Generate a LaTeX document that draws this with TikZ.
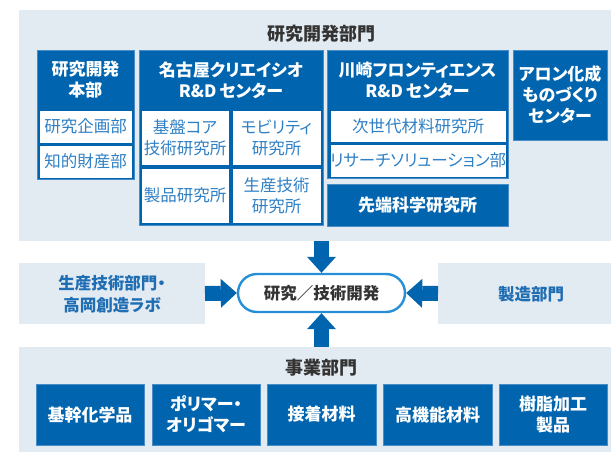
\documentclass[tikz,border=0pt]{standalone}
\usepackage{fontspec}
\setmainfont{Noto Sans CJK JP}[RawFeature=+palt]
\usetikzlibrary{arrows.meta}
\definecolor{navy}{HTML}{0064AF}
\definecolor{panelgray}{HTML}{E3EBF2}
\definecolor{celltext}{HTML}{2F80C4}
\definecolor{midtext}{HTML}{1F6DB3}
\definecolor{edgeblue}{HTML}{4A8CC8}
\definecolor{pillblue}{HTML}{2590D8}
\definecolor{titletext}{HTML}{333333}
\begin{document}
\begin{tikzpicture}[x=1pt,y=-1pt,
  every node/.style={inner sep=0pt, outer sep=0pt},
  panelbox/.style={fill=panelgray, anchor=north west},
  darkbox/.style={fill=navy, draw=edgeblue, line width=0.8pt, anchor=north west,
    text=white, font=\bfseries\fontsize{17}{21}\selectfont, align=center},
  cellbox/.style={fill=white, draw=navy, line width=0.6pt, anchor=north west,
    text=celltext, font=\fontsize{16.5}{21}\selectfont, align=center},
  headtext/.style={text=white, font=\bfseries\fontsize{17}{21}\selectfont, align=center},
  titlestyle/.style={text=titletext, font=\bfseries\fontsize{18}{21}\selectfont},
  midtextstyle/.style={text=midtext, font=\bfseries\fontsize{16.5}{21.5}\selectfont, align=center},
  pillstyle/.style={draw=pillblue, line width=2.4pt, fill=white, rounded corners=19pt,
    minimum width=167pt, minimum height=38pt, text=titletext,
    font=\bfseries\fontsize{16.5}{21}\selectfont},
  bigarrow/.style={draw=navy, line width=15pt,
    -{Triangle[length=16pt, width=29pt, line width=0pt]}}
]
\useasboundingbox (0,0) rectangle (611,452);

% panels
\node[panelbox, minimum width=592pt, minimum height=231pt] (rd) at (19,10) {};
\node[panelbox, minimum width=186pt, minimum height=61pt] (prod) at (19,263) {};
\node[panelbox, minimum width=173pt, minimum height=61pt] (mfg) at (438,263) {};
\node[panelbox, minimum width=592pt, minimum height=105pt] (biz) at (19,347) {};

\node[titlestyle] (rdtitle) at (321,34) {研究開発部門};
\node[titlestyle] (biztitle) at (321,368) {事業部門};

% 研究開発本部
\node[darkbox, minimum width=97pt, minimum height=129pt] (hq) at (37,50) {};
\node[headtext] (hqhead) at (85.5,80) {研究開発\\本部};
\node[cellbox, minimum width=93pt, minimum height=33pt] (hq1) at (39,110) {研究企画部};
\node[cellbox, minimum width=93pt, minimum height=33pt] (hq2) at (39,145) {知的財産部};

% 名古屋
\node[darkbox, minimum width=184pt, minimum height=175pt] (ngy) at (139,50) {};
\node[headtext] (ngyhead) at (231,80) {名古屋クリエイシオ\\R\&D\,センター};
\node[cellbox, minimum width=88pt, minimum height=55pt] (ngy1) at (141,110) {基盤コア\\技術研究所};
\node[cellbox, minimum width=89pt, minimum height=55pt] (ngy2) at (232,110) {モビリティ\\研究所};
\node[cellbox, minimum width=88pt, minimum height=55pt] (ngy3) at (141,168) {製品研究所};
\node[cellbox, minimum width=89pt, minimum height=55pt] (ngy4) at (232,168) {生産技術\\研究所};

% 川崎
\node[darkbox, minimum width=181pt, minimum height=128pt] (kws) at (327,50) {};
\node[headtext] (kwshead) at (417.5,80) {川崎フロンティエンス\\R\&D\,センター};
\node[cellbox, minimum width=176pt, minimum height=32pt] (kws1) at (330,110) {次世代材料研究所};
\node[cellbox, minimum width=176pt, minimum height=33pt] (kws2) at (330,144) {リサーチソリューション部};
\node[darkbox, minimum width=181pt, minimum height=42pt] (adv) at (327,184) {先端科学研究所};

% アロン化成
\node[darkbox, minimum width=94pt, minimum height=90pt] (aron) at (513,50) {アロン化成\\ものづくり\\センター};

% middle
\node[midtextstyle] (prodtext) at (112,294) {生産技術部門・\\高岡創造ラボ};
\node[midtextstyle] (mfgtext) at (531,294) {製造部門};
\node[pillstyle] (core) at (321.5,293) {研究／技術開発};

% arrows
\draw[bigarrow] (core.north |- rd.south) -- ([yshift=1.2pt]core.north);
\draw[bigarrow] (core.south |- biz.north) -- ([yshift=-1.2pt]core.south);
\draw[bigarrow] (prod.east) -- ([xshift=-1.2pt]core.west);
\draw[bigarrow] (mfg.west) -- ([xshift=1.2pt]core.east);

% business units
\node[darkbox, minimum width=108pt, minimum height=61pt] (b1) at (36,384) {基幹化学品};
\node[darkbox, minimum width=108pt, minimum height=61pt] (b2) at (152,384) {ポリマー・\\オリゴマー};
\node[darkbox, minimum width=109pt, minimum height=61pt] (b3) at (267,384) {接着材料};
\node[darkbox, minimum width=109pt, minimum height=61pt] (b4) at (383,384) {高機能材料};
\node[darkbox, minimum width=108pt, minimum height=61pt] (b5) at (499,384) {樹脂加工\\製品};
\end{tikzpicture}
\end{document}
